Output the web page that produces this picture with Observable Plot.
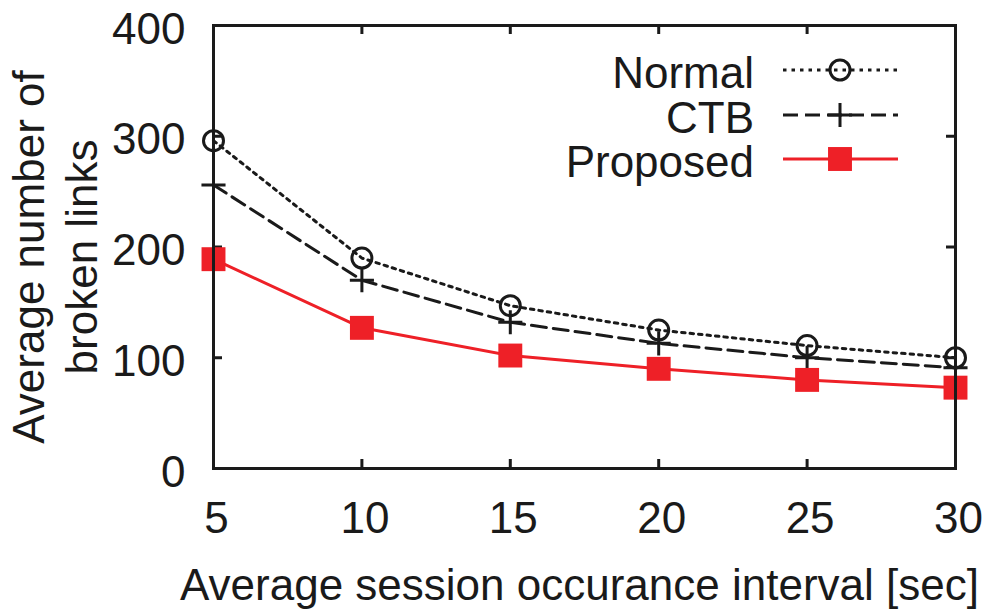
<!DOCTYPE html>
<html>
<head>
<meta charset="utf-8">
<script src="https://cdn.jsdelivr.net/npm/d3@7"></script>
<script src="https://cdn.jsdelivr.net/npm/@observablehq/plot@0.6"></script>
<style>
  html, body { margin: 0; padding: 0; background: #fff; }
  #chart svg { display: block; }
</style>
</head>
<body>
<div id="chart"></div>
<script>
const intervals = [5, 10, 15, 20, 25, 30];
const normal   = [296, 190, 147, 125, 111, 100];
const ctb      = [256, 170, 132, 113, 100, 91];
const proposed = [189, 127, 102, 90, 80, 73];
const xTicks = [5, 10, 15, 20, 25, 30];
const yTicks = [0, 100, 200, 300, 400];
const seriesNames = ["Normal", "CTB", "Proposed"];
const xLabel = "Average session occurance interval [sec]";
const yLabel = "Average number of\nbroken links";

const RED = "#ee2027";
const INK = "#1a1a1a";
const FONT = "'Liberation Sans', Arial, Helvetica, sans-serif";

const toRows = (vals) => intervals.map((x, i) => ({x, y: vals[i]}));
const dNormal = toRows(normal), dCtb = toRows(ctb), dProp = toRows(proposed);

const W = 993, H = 610;
const mL = 213, mR = 38, mT = 25, mB = 142;
const innerW = W - mL - mR, innerH = H - mT - mB;
const tickLen = 9;
const PLUS_R = 7.8, CIRCLE_R = 10, SQUARE_R = 13.5;

const chart = Plot.plot({
  width: W, height: H,
  marginLeft: mL, marginRight: mR, marginTop: mT, marginBottom: mB,
  style: {fontFamily: FONT, fontSize: "44px", color: INK, background: "#fff"},
  x: {domain: [5, 30]},
  y: {domain: [0, 400]},
  marks: [
    Plot.axisX({ticks: xTicks, tickSize: 0, tickPadding: 33, label: null, fontSize: 44, dx: 3}),
    Plot.axisY({ticks: yTicks, tickSize: 0, tickPadding: 28, label: null, fontSize: 44, dy: 4}),
    // inward ticks, mirrored on all sides
    Plot.tickX(xTicks, {x: d => d, insetTop: innerH - tickLen, stroke: INK, strokeWidth: 3}),
    Plot.tickX(xTicks, {x: d => d, insetBottom: innerH - tickLen, stroke: INK, strokeWidth: 3}),
    Plot.tickY(yTicks, {y: d => d, insetRight: innerW - tickLen, stroke: INK, strokeWidth: 3}),
    Plot.tickY(yTicks, {y: d => d, insetLeft: innerW - tickLen, stroke: INK, strokeWidth: 3}),
    Plot.line(dNormal, {x: "x", y: "y", stroke: INK, strokeWidth: 3, strokeDasharray: "3.5,5"}),
    Plot.line(dCtb, {x: "x", y: "y", stroke: INK, strokeWidth: 3, strokeDasharray: "15,7"}),
    Plot.line(dProp, {x: "x", y: "y", stroke: RED, strokeWidth: 3}),
    Plot.dot(dNormal, {x: "x", y: "y", symbol: "circle", r: CIRCLE_R, fill: "none", stroke: INK, strokeWidth: 3}),
    Plot.dot(dCtb, {x: "x", y: "y", symbol: "plus", r: PLUS_R, stroke: INK, strokeWidth: 3}),
    Plot.dot(dProp, {x: "x", y: "y", symbol: "square", r: SQUARE_R, fill: RED, stroke: "none"}),
    Plot.frame({stroke: INK, strokeWidth: 3}),
    Plot.text([xLabel], {frameAnchor: "bottom", lineAnchor: "bottom", dy: 131, dx: -5, fontSize: 44, fill: INK}),
    Plot.text([yLabel], {frameAnchor: "left", rotate: -90, lineAnchor: "middle", textAnchor: "middle", lineHeight: 1.2, dx: -160, dy: 10, fontSize: 44, fill: INK})
  ]
});

// Legend (inside the frame, top right)
const svg = d3.select(chart);
const leg = svg.append("g").attr("font-family", FONT).attr("font-size", 44).attr("fill", INK);
const rows = [
  {name: seriesNames[0], dash: "3.5,5", stroke: INK, sym: d3.symbolCircle, r: CIRCLE_R, fill: "none", sw: 3},
  {name: seriesNames[1], dash: "15,7", stroke: INK, sym: d3.symbolPlus, r: PLUS_R, fill: "none", sw: 3},
  {name: seriesNames[2], dash: null, stroke: RED, sym: d3.symbolSquare, r: SQUARE_R, fill: RED, sw: 0}
];
const textX = 754, lineX1 = 783, lineX2 = 898, markX = 840;
const rowY = [70, 115, 159];
rows.forEach((row, i) => {
  const y = rowY[i];
  leg.append("text").attr("x", textX).attr("y", y + 18).attr("text-anchor", "end").text(row.name);
  leg.append("line").attr("x1", lineX1).attr("x2", lineX2).attr("y1", y).attr("y2", y)
    .attr("stroke", row.stroke).attr("stroke-width", 3).attr("stroke-dasharray", row.dash);
  leg.append("path")
    .attr("d", d3.symbol(row.sym, Math.PI * row.r * row.r)())
    .attr("transform", `translate(${markX},${y})`)
    .attr("fill", row.fill).attr("stroke", row.sw ? row.stroke : "none").attr("stroke-width", row.sw);
});

document.getElementById("chart").appendChild(chart);
</script>
</body>
</html>
